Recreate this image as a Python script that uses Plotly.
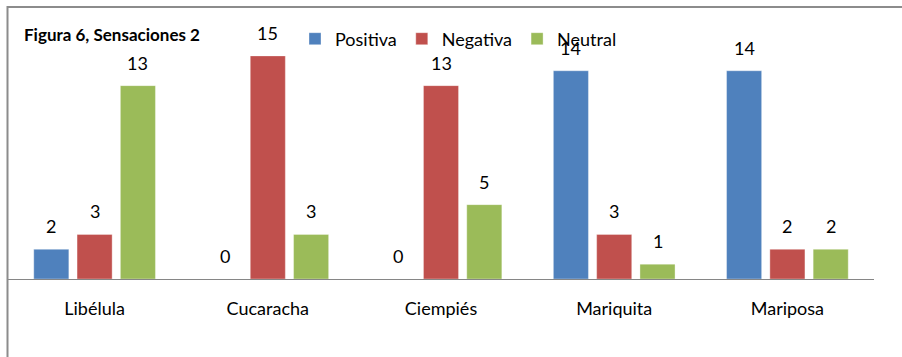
import plotly.graph_objects as go

# Survey results: sensations reported for each insect
categories = ["Libélula", "Cucaracha", "Ciempiés", "Mariquita", "Mariposa"]
positiva = [2, 0, 0, 14, 14]
negativa = [3, 15, 13, 3, 2]
neutral = [13, 3, 5, 1, 2]

series = [
    ("Positiva", positiva, "#4F81BD"),
    ("Negativa", negativa, "#C0504D"),
    ("Neutral", neutral, "#9BBB59"),
]

FONT = "Lato, 'Open Sans', sans-serif"
W, H = 902, 357
M_L, M_R, M_T, M_B = 8, 28, 41, 78
plot_w = W - M_L - M_R
cat_w = plot_w / len(categories)
BARGAP = 0.25
slot_px = cat_w * (1 - BARGAP) / len(series)

fig = go.Figure()
for name, vals, color in series:
    fig.add_trace(go.Bar(
        name=name, x=categories, y=vals,
        marker=dict(color=color, line=dict(color="rgba(255,255,255,0.35)", width=1)),
        hoverinfo="x+y+name",
    ))

# value labels above each bar
annotations = []
for i, (name, vals, color) in enumerate(series):
    for cat, v in zip(categories, vals):
        annotations.append(dict(
            x=cat, y=v, xref="x", yref="y", text=str(v), showarrow=False,
            xanchor="center", yanchor="bottom", xshift=(i - 1) * slot_px, yshift=10,
            font=dict(family=FONT, size=18, color="#000000"),
        ))

annotations.append(dict(
    text="<b>Figura 6, Sensaciones 2</b>", xref="paper", yref="paper",
    x=(22 - M_L) / plot_w, y=(H - M_B - 34) / (H - M_T - M_B),
    xanchor="left", yanchor="middle", showarrow=False,
    font=dict(family=FONT, size=17, color="#000000"),
))

plot_h = H - M_T - M_B
fig.update_layout(
    width=W, height=H,
    margin=dict(l=M_L, r=M_R, t=M_T, b=M_B, pad=0),
    paper_bgcolor="white", plot_bgcolor="white",
    barmode="group", bargap=BARGAP, bargroupgap=0.19,
    font=dict(family=FONT, size=18, color="#000000"),
    showlegend=True,
    legend=dict(
        orientation="h", x=(295 - M_L) / plot_w, y=(H - M_B - 39) / plot_h,
        xanchor="left", yanchor="middle", bgcolor="rgba(0,0,0,0)",
        font=dict(family=FONT, size=18, color="#000000"),
        itemwidth=30, traceorder="normal",
    ),
    xaxis=dict(
        showline=True, linecolor="#868686", linewidth=1,
        ticks="", showgrid=False, zeroline=False,
        tickfont=dict(family=FONT, size=18, color="#000000"),
        ticklabelstandoff=13,
    ),
    yaxis=dict(
        range=[0, 16], visible=False, showgrid=False, zeroline=False,
    ),
    annotations=annotations,
    shapes=[dict(
        type="rect", xref="paper", yref="paper",
        x0=(7.5 - M_L) / plot_w, x1=(W + 20 - M_L) / plot_w,
        y0=(H - M_B - (H + 20)) / plot_h, y1=(H - M_B - 7) / plot_h,
        line=dict(color="#8C8C8C", width=2), fillcolor="rgba(0,0,0,0)",
        layer="above",
    )],
)

fig.write_html("out.html")
